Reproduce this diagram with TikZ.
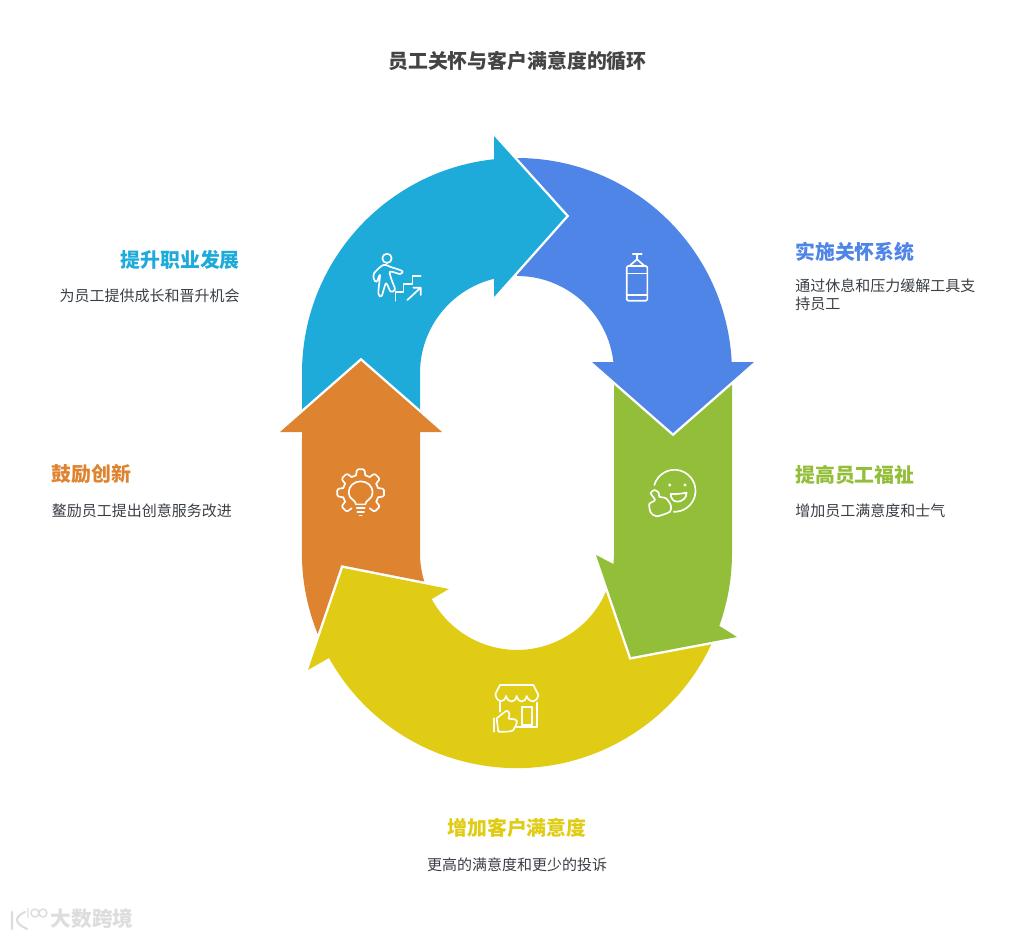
\documentclass[tikz,border=0pt]{standalone}
\usepackage{fontspec}
\setmainfont{Noto Sans CJK SC}
\definecolor{cteal}{HTML}{1EABDA}
\definecolor{cblue}{HTML}{4E85E7}
\definecolor{cgreen}{HTML}{93BE3A}
\definecolor{cyellow}{HTML}{E0CC15}
\definecolor{corange}{HTML}{DE8431}
\definecolor{ctitle}{HTML}{444444}
\definecolor{cdesc}{HTML}{3A3F45}
\definecolor{cmark}{HTML}{DDDDDD}
\tikzset{
  seg/.style={fill=#1,draw=none},
  gap/.style={draw=white,line width=3.6pt,line join=miter},
  icon/.style={draw=white,line width=1.25pt,line cap=round,line join=round},
  ttl/.style={font=\bfseries\fontsize{14.9pt}{18pt}\selectfont,text=ctitle,inner sep=0pt},
  head/.style={font=\bfseries\fontsize{14.9pt}{18pt}\selectfont,text=#1,inner sep=0pt},
  desc/.style={font=\fontsize{11.25pt}{13.5pt}\selectfont,text=cdesc,inner sep=0pt},
}
\begin{document}
\begin{tikzpicture}[x=0.75pt,y=-0.75pt]
\useasboundingbox (0,0) rectangle (1034,938);
% yellow
\fill[seg=cyellow] (329,658) arc[start angle=150.8,end angle=23,radius=215]
  -- (610.7,578) arc[start angle=15,end angle=151.6,radius=97]
  -- (449,589) -- (343,568) -- (308,670) -- cycle;
% green
\draw[gap] (737,637) -- (631,657) -- (596,555);
\fill[seg=cgreen] (614,375) -- (732,375) -- (732,553) arc[start angle=0,end angle=19.8,radius=215]
  -- (737,637) -- (631,657) -- (596,555) -- (613.4,564) arc[start angle=6.5,end angle=0,radius=97] -- cycle;
% blue
\draw[gap] (754,362) -- (673,433) -- (592,362);
\fill[seg=cblue] (517,158) arc[start angle=-90,end angle=-2.93,radius=215]
  -- (754,362) -- (673,433) -- (592,362) -- (613.4,362)
  arc[start angle=-6.5,end angle=-90,radius=97] -- cycle;
% teal
\draw[gap] (494,136) -- (566,216) -- (494,297);
\fill[seg=cteal] (302,432) -- (302,373) arc[start angle=-180,end angle=-96.14,radius=215]
  -- (494,136) -- (566,216) -- (494,297) -- (494,278.8)
  arc[start angle=-103.72,end angle=-180,radius=97] -- (420,432) -- cycle;
% orange
\draw[gap] (280,432) -- (361,361) -- (442,432);
\fill[seg=corange] (361,361) -- (442,432) -- (420,432) -- (420,553)
  arc[start angle=180,end angle=162.9,radius=97] -- (341.3,565.1) -- (317.7,634)
  arc[start angle=157.9,end angle=180,radius=215] -- (302,432) -- (280,432) -- cycle;

% climber + bag icons
\begin{scope}[shift={(350,230)},x=0.25pt,y=-0.25pt]
  \draw[icon] (111,85) circle[radius=14];
  \draw[icon] plot[smooth cycle,tension=.5] coordinates {(100,105) (72,130) (72,148) (80,155) (90,135) (85,190) (95,198) (108,160) (122,185) (135,178) (125,150) (120,125) (150,132) (158,125) (150,120) (125,112)};
  \draw[icon] (136,212) -- (136,185) -- (160,185) -- (160,162) -- (187,162) -- (187,138) -- (212,138);
  \draw[icon] (172,210) -- (212,173) (190,173) -- (212,173) -- (212,195);
  \draw[icon] (848,72) -- (875,72) (861,72) -- (861,88) -- (838,108) (861,88) -- (884,108);
  \draw[icon,rounded corners=1pt] (830,108) rectangle (892,212);
  \draw[icon] (830,130) -- (892,130) (830,195) -- (892,195);
\end{scope}
% bulb + gear icon
\begin{scope}[shift={(320,450)},x=0.25pt,y=-0.25pt]
  \begin{scope}[shift={(122,128)}]
    \foreach \a in {135,180,225,270,315,360,405}{
      \draw[icon,rounded corners=1pt] (\a-15:54) -- (\a-9:71) -- (\a+9:71) -- (\a+15:54);
    }
    \foreach \a in {135,180,225,270,315,360}{
      \draw[icon] (\a+15:54) -- (\a+30:54);
    }
  \end{scope}
  \draw[icon] (108,163) .. controls (108,150) and (86,148) .. (86,128) .. controls (86,108) and (102,94) .. (122,94) .. controls (142,94) and (158,108) .. (158,128) .. controls (158,148) and (136,150) .. (136,163) -- cycle;
  \draw[icon] (110,174) -- (134,174) (112,185) -- (132,185) (119,196) -- (125,196);
  % face + thumb
  \draw[icon] (1003,105) arc[start angle=196,end angle=452,radius=63];
  \fill[white] (1049,105) circle[radius=5] (1095,105) circle[radius=5];
  \draw[icon] (1052,132) .. controls (1065,133) and (1085,131) .. (1100,128) .. controls (1100,145) and (1085,155) .. (1072,155) .. controls (1060,155) and (1052,145) .. (1052,132) -- cycle;
  \draw[icon] plot[smooth cycle,tension=.45] coordinates {(1018,140) (1038,145) (1052,165) (1050,185) (1010,199) (992,187) (988,162) (1005,150) (992,130) (1003,120) (1016,128)};
\end{scope}
% store icon
\begin{scope}[shift={(470,670)},x=0.25pt,y=-0.25pt]
  \draw[icon] (76,72) -- (90,45) -- (190,45) -- (205,75) .. controls (200,100) and (178,100) .. (170,78) .. controls (165,100) and (145,100) .. (140,78) .. controls (135,100) and (115,100) .. (108,78) .. controls (103,100) and (80,100) .. (76,72) -- cycle;
  \draw[icon] (90,96) -- (90,125) (200,98) -- (200,170) -- (140,170);
  \draw[icon] (155,165) -- (155,110) -- (185,110) -- (185,165) -- cycle;
  \draw[icon] (72,145) -- (72,185);
  \draw[icon] (80,145) -- (105,125) .. controls (112,120) and (122,122) .. (116,146) -- (135,148) .. controls (142,150) and (142,155) .. (138,165) -- (130,180) .. controls (125,186) and (110,185) .. (85,185) -- cycle;
\end{scope}

% texts
\node[ttl] (title) at (517.5,61) {员工关怀与客户满意度的循环};
\node[head=cblue,anchor=west] (h1) at (795,252) {实施关怀系统};
\node[desc,anchor=west] (d1a) at (795,285.5) {通过休息和压力缓解工具支};
\node[desc,anchor=west] (d1b) at (795,303.5) {持员工};
\node[head=cgreen,anchor=west] (h2) at (795,475) {提高员工福祉};
\node[desc,anchor=west] (d2) at (795,510.5) {增加员工满意度和士气};
\node[head=cyellow] (h3) at (517,828) {增加客户满意度};
\node[desc] (d3) at (517,864.5) {更高的满意度和更少的投诉};
\node[head=corange,anchor=west] (h4) at (51.5,474) {鼓励创新};
\node[desc,anchor=west] (d4) at (51.5,510.5) {鳌励员工提出创意服务改进};
\node[head=cteal,anchor=east] (h5) at (240,260) {提升职业发展};
\node[desc,anchor=east] (d5) at (240,295.5) {为员工提供成长和晋升机会};
% watermark
\node[font=\bfseries\fontsize{15.5pt}{18pt}\selectfont,text=cmark,inner sep=0pt] (wm) at (92,919) {大数跨境};
\draw[cmark,line width=1.6pt,line cap=round] (12,912) -- (12,929) (25,912) .. controls (14,917) and (14,923) .. (27,929);
\draw[cmark,line width=1.1pt] (28,908) -- (28,918) (35,913) circle[radius=4] (43,913) circle[radius=4];
\end{tikzpicture}
\end{document}
